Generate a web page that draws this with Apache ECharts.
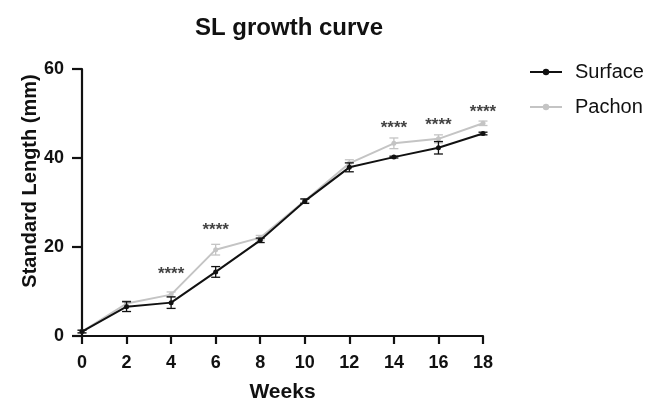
<!DOCTYPE html>
<html><head><meta charset="utf-8">
<script src="https://cdn.jsdelivr.net/npm/echarts@6/dist/echarts.min.js"></script>
<style>html,body{margin:0;padding:0;background:#fff}#c{width:646px;height:402px}</style>
</head><body><div id="c"></div>
<script>
var weeks = [0, 2, 4, 6, 8, 10, 12, 14, 16, 18];
var surface = [1.0, 6.6, 7.5, 14.4, 21.5, 30.3, 37.9, 40.2, 42.3, 45.5];
var surfaceErr = [0.3, 1.1, 1.3, 1.2, 0.5, 0.5, 1.0, 0.2, 1.4, 0.3];
var pachon = [1.0, 7.3, 9.3, 19.4, 22.1, 30.4, 38.8, 43.3, 44.3, 47.8];
var pachonErr = [0.3, 0.6, 0.6, 1.2, 0.5, 0.4, 0.8, 1.2, 0.9, 0.5];
var starWeeks = [4, 6, 14, 16, 18];
var starY = [13.8, 23.7, 46.6, 47.3, 50.3];
var yTicks = [0, 20, 40, 60];

function pairs(ys){ return weeks.map(function(w,i){ return [w, ys[i]]; }); }
function errData(ys, es){ return weeks.map(function(w,i){ return [w, ys[i]-es[i], ys[i]+es[i]]; }); }
function errRender(color){
  return function(params, api){
    var x = api.value(0);
    var lo = api.coord([x, api.value(1)]);
    var hi = api.coord([x, api.value(2)]);
    var w = 4.5;
    var st = {stroke: color, lineWidth: 1.3};
    return {type:'group', children:[
      {type:'line', shape:{x1:lo[0],y1:lo[1],x2:hi[0],y2:hi[1]}, style:st},
      {type:'line', shape:{x1:lo[0]-w,y1:lo[1],x2:lo[0]+w,y2:lo[1]}, style:st},
      {type:'line', shape:{x1:hi[0]-w,y1:hi[1],x2:hi[0]+w,y2:hi[1]}, style:st}
    ]};
  };
}
var FF = 'Liberation Sans, Arial, sans-serif';
var dark = '#111111', light = '#c4c4c4';
var chart = echarts.init(document.getElementById('c'));
chart.setOption({
  animation:false,
  title:{text:'SL growth curve', left:284, top:11, textAlign:'center',
    textStyle:{fontFamily:FF, fontSize:24, fontWeight:'bold', color:'#111'}},
  legend:{orient:'vertical', left:524, top:57, itemWidth:32, itemHeight:8, itemGap:15,
    data:['Surface','Pachon'],
    textStyle:{fontFamily:FF, fontSize:20, color:'#111', padding:[0,0,0,8]}},
  graphic:[{type:'text', x:30, y:181, rotation:Math.PI/2,
    style:{text:'Standard Length (mm)', font:'bold 20px ' + FF, fill:'#111', align:'center', verticalAlign:'middle'}}],
  grid:{left:82, right:163, top:69, bottom:66, containLabel:false, outerBoundsMode:'none'},
  xAxis:{type:'value', min:0, max:18, interval:2, name:'Weeks', nameLocation:'middle', nameGap:46,
    nameTextStyle:{fontFamily:FF, fontSize:21, fontWeight:'bold', color:'#111'},
    axisLine:{lineStyle:{color:'#111', width:2.2}},
    axisTick:{show:true, length:8, lineStyle:{color:'#111', width:2.2}},
    axisLabel:{fontFamily:FF, fontSize:18, fontWeight:'bold', color:'#111', margin:18},
    splitLine:{show:false}},
  yAxis:{type:'value', min:0, max:60, interval:20,
    axisLine:{show:true, lineStyle:{color:'#111', width:2.2}},
    axisTick:{show:true, length:10, lineStyle:{color:'#111', width:2.2}},
    axisLabel:{fontFamily:FF, fontSize:18, fontWeight:'bold', color:'#111', margin:18,
      formatter:function(v){ return yTicks.indexOf(v)>=0 ? String(v) : ''; }},
    splitLine:{show:false}},
  series:[
    {name:'Pachon', type:'line', data:pairs(pachon), symbol:'circle', symbolSize:5,
      itemStyle:{color:light}, lineStyle:{color:light, width:2}, z:2},
    {type:'custom', renderItem:errRender(light), data:errData(pachon, pachonErr), z:2, silent:true,
      encode:{x:0, y:[1,2]}},
    {name:'Surface', type:'line', data:pairs(surface), symbol:'circle', symbolSize:5,
      itemStyle:{color:dark}, lineStyle:{color:dark, width:2}, z:4},
    {type:'custom', renderItem:errRender(dark), data:errData(surface, surfaceErr), z:4, silent:true,
      encode:{x:0, y:[1,2]}},
    {type:'scatter', symbolSize:0, silent:true,
      data:starWeeks.map(function(w,i){ return [w, starY[i]]; }),
      label:{show:true, formatter:'****', position:'inside',
        fontFamily:FF, fontSize:17, fontWeight:'bold', color:'#111'}}
  ]
});
</script></body></html>
